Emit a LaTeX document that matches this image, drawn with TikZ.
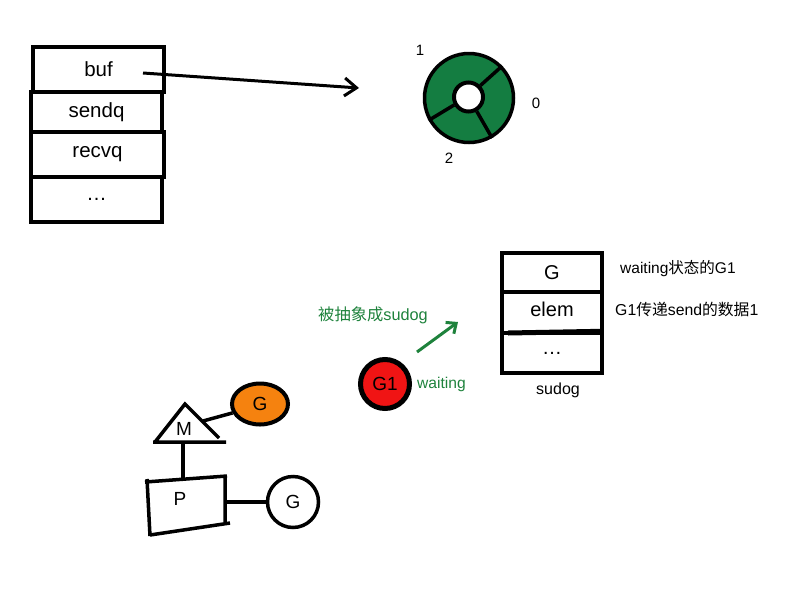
\documentclass[tikz,border=0pt]{standalone}
\usepackage{fontspec}
\setmainfont{Liberation Sans}
\newfontfamily\cjk{Noto Sans CJK SC}
\usetikzlibrary{arrows.meta,shapes.geometric}
\definecolor{ringgreen}{RGB}{20,125,65}
\definecolor{txtgreen}{RGB}{30,130,60}
\definecolor{gred}{RGB}{240,20,20}
\definecolor{gorange}{RGB}{245,130,15}
\tikzset{
  rowbox/.style={draw, line width=3.5pt, inner sep=0pt, font=\fontsize{20.5}{22}\selectfont},
  sbox/.style={draw, line width=3.5pt, inner sep=0pt, minimum width=100pt, font=\fontsize{20}{22}\selectfont},
  lbl/.style={inner sep=0pt, font=\fontsize{15}{17}\selectfont},
  gnode/.style={draw, line width=3.5pt, inner sep=0pt, font=\fontsize{19}{21}\selectfont},
  thick line/.style={line width=3.5pt},
}
\begin{document}
\begin{tikzpicture}[x=1pt,y=-1pt]
\useasboundingbox (0,0) rectangle (800,600);
% channel struct
\node[rowbox, minimum width=131pt, minimum height=45pt] (buf) at (98.5,69.5) {\raisebox{-3pt}{buf}};
\node[rowbox, minimum width=131pt, minimum height=40pt] (sendq) at (96.5,112) {sendq};
\node[rowbox, minimum width=133pt, minimum height=45pt] (recvq) at (97.5,154.5) {recvq};
\node[rowbox, minimum width=131pt, minimum height=45pt] (cdots) at (96.5,199.5) {\dots};
% ring buffer
\node[circle, draw, line width=3.5pt, fill=ringgreen, minimum size=89pt, inner sep=0pt] (ring) at (469,98) {};
\node[circle, draw, line width=4pt, fill=white, minimum size=29pt, inner sep=0pt] (hole) at (468.5,97) {};
\draw[thick line] (hole.44) -- (ring.44);
\draw[thick line] (hole.209) -- (ring.209);
\draw[thick line] (hole.300) -- (ring.300);
\node[lbl] (l1) at (420,50) {1};
\node[lbl] (l0) at (536,103) {0};
\node[lbl] (l2) at (449,158) {2};
% buf arrow
\coordinate (bufp) at (143,73);
\coordinate (ringp) at (359,88);
\draw[line width=3pt, -{Straight Barb[length=12pt,width=18pt,line width=3pt]}] (bufp) -- (ringp);
% sudog
\node[sbox, minimum height=39pt] (sg) at (552,272.5) {G};
\node[sbox, minimum height=41pt] (se) at (552,312.5) {\raisebox{7pt}{elem}};
\node[sbox, minimum height=40pt] (sd) at (552,353) {\dots};
\draw[line width=5pt] (508,333) -- (sd.north east);
\node[inner sep=0pt, font=\fontsize{16}{18}\selectfont] (sudog) at (558,390) {sudog};
\node[inner sep=0pt, anchor=west, font=\fontsize{15.5}{17}\selectfont] (t1) at (620,269) {waiting{\cjk 状态的}G1};
\node[inner sep=0pt, anchor=west, font=\fontsize{15.8}{17}\selectfont] (t2) at (615,309) {G1{\cjk 传递}send{\cjk 的数据}1};
% G1 waiting
\node[circle, draw, line width=5pt, fill=gred, minimum size=49pt, inner sep=0pt, font=\fontsize{19}{21}\selectfont] (g1) at (385,384) {G1};
\node[inner sep=0pt, anchor=west, text=txtgreen, font=\fontsize{15.6}{17}\selectfont] (wt) at (417,384) {waiting};
\node[inner sep=0pt, anchor=west, text=txtgreen, font=\fontsize{16.3}{18}\selectfont] (abs) at (318,315) {{\cjk 被抽象成}sudog};
\coordinate (ga) at (417,352);
\coordinate (gb) at (458,322);
\draw[txtgreen, line width=3pt, -{Straight Barb[length=8pt,width=14pt,line width=3pt]}] (ga) -- (gb);
% M P G
\node[inner sep=0pt, font=\fontsize{19}{21}\selectfont] (M) at (184,429) {M};
\draw[line width=3.5pt, line join=miter] (155,442) -- (185,404) -- (219,438) (153,442) -- (226,442);
\node[ellipse, draw, line width=4pt, fill=gorange, minimum width=56pt, minimum height=41pt, inner sep=0pt, font=\fontsize{19}{21}\selectfont] (go) at (260,404) {G};
\coordinate (mr) at (203,421);
\draw[line width=3.5pt] (mr) -- (go.198);
\coordinate (mb) at (183,442);
\node[inner sep=0pt, font=\fontsize{19}{21}\selectfont] (P) at (180,499) {P};
\draw[line width=3.5pt] (145,482) -- (227,476) (225,475) -- (225,524) (230,523) -- (150,535) (147,479) -- (150,536);
\coordinate (pt) at (183,479);
\draw[line width=3.5pt] (mb) -- (pt);
\node[circle, gnode, minimum size=51pt] (gw) at (293,502) {G};
\coordinate (pr) at (226,502);
\draw[line width=3.5pt] (pr) -- (gw.west);
\end{tikzpicture}
\end{document}
